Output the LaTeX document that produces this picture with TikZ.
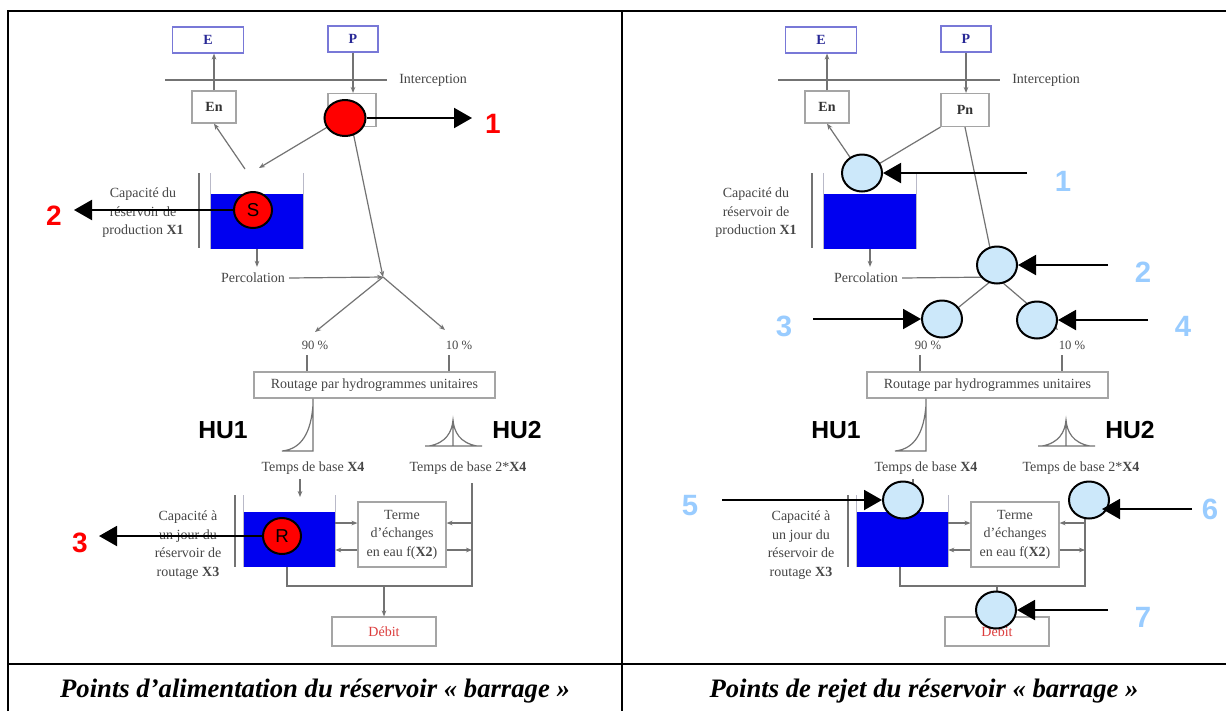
\documentclass[tikz,border=0pt]{standalone}
\usepackage{fontspec}
\setmainfont{Liberation Serif}
\newfontfamily\arialf{Liberation Sans}
\usetikzlibrary{arrows.meta,calc,shapes.geometric}
\definecolor{resblue}{RGB}{0,0,240}
\definecolor{lblue}{RGB}{153,204,255}
\definecolor{cblue}{RGB}{204,232,250}
\definecolor{linegray}{RGB}{115,115,115}
\definecolor{boxgray}{RGB}{165,165,165}
\definecolor{txtgray}{RGB}{70,70,70}
\definecolor{boxblue}{RGB}{120,120,215}
\definecolor{darkblue}{RGB}{40,40,150}
\definecolor{wallgray}{RGB}{185,185,200}
\definecolor{debitred}{RGB}{220,60,60}
\newcommand\gdiagram{%
  % top boxes
  \node[ebox, sz={71}{26}] (E) at (208,40) {E};
  \node[ebox, sz={50}{26}] (P) at (353,39) {P};
  \node[gbox, sz={44}{32}, font=\dfont\bfseries, text=black!80] (En) at (214,107) {En};
  \node[gbox, sz={48}{33}, font=\dfont\bfseries, text=black!80] (Pn) at (352,110) {Pn};
  \coordinate (iL) at (165,80);
  \coordinate (iR) at (387,80);
  \node[dtext, anchor=west] (int) at (399,80) {Interception};
  \draw[dline] (iL) -- (iR);
  \draw[darr] (En.north) -- (En.north |- E.south);
  \draw[darr] (P.south) -- (P.south |- Pn.north);
  \coordinate (sEn) at (245,169);
  \coordinate (sPn) at (259,168);
  \draw[darr] (sEn) -- (En.south);
  \draw[darr] (Pn.south west) -- (sPn);
  % production reservoir
  \node[resv, sz={92}{55}] (Sres) at (257,221.5) {};
  \draw[wall] (Sres.south west) -- ++(0,-76);
  \draw[wall] (Sres.south east) -- ++(0,-76);
  \coordinate (sbar) at (199,173);
  \draw[dline] (sbar) -- ++(0,75);
  \node[dtext] (Scap) at (143,213) {Capacité du\\réservoir de\\production \textbf{X1}};
  \node[dtext] (perc) at (253,278) {Percolation};
  \draw[darr, shorten >=6*0.75pt] (Sres.south) -- (Sres.south |- perc.north);
  \coordinate (J) at (383,277);
  \draw[darr] (perc.east) ++(4*0.75pt,0) -- (J);
  \draw[darr] (Pn.south) -- (J);
  \node[dtext, font=\sfont] (p90) at (315,345) {90 \%};
  \node[dtext, font=\sfont] (p10) at (459,345) {10 \%};
  \coordinate (a90) at (315,332);
  \coordinate (a10) at (445,330);
  \draw[darr] (J) -- (a90);
  \draw[darr] (J) -- (a10);
  % routing
  \node[gbox, sz={241}{26}] (rout) at (374.5,385) {Routage par hydrogrammes unitaires};
  \coordinate (v90) at (307,355);
  \coordinate (v10) at (449,355);
  \draw[dline] (v90) -- (v90 |- rout.north);
  \draw[dline] (v10) -- (v10 |- rout.north);
  \coordinate (h1) at (313,451);
  \draw[dline] (h1 |- rout.south) -- (h1) -- (282,451) .. controls (302,449) and (311,432) .. (313,405);
  \coordinate (h2) at (453,446);
  \draw[dline] (425,446) -- (482,446) (h2) -- (453,420)
    (429,446) .. controls (446,443) and (452,432) .. (453,420) .. controls (454,432) and (460,443) .. (477,446);
  \node[hu] (HU1) at (223,430) {HU1};
  \node[hu] (HU2) at (517,430) {HU2};
  \node[dtext] (tb1) at (313,468) {Temps de base \textbf{X4}};
  \node[dtext] (tb2) at (468,468) {Temps de base 2*\textbf{X4}};
  % routing reservoir
  \node[resv, sz={91}{55}] (Rres) at (289.5,539.5) {};
  \draw[wall] (Rres.south west) -- ++(0,-72);
  \draw[wall] (Rres.south east) -- ++(0,-72);
  \coordinate (rbar) at (235,495);
  \draw[dline] (rbar) -- ++(0,72);
  \coordinate (rin) at (300,479);
  \draw[darr] (rin) -- ++(0,18);
  \node[dtext] (Rcap) at (188,545) {Capacité à\\un jour du\\réservoir de\\routage \textbf{X3}};
  \node[gbox, sz={88}{65}] (T) at (402,534.5) {Terme\\d’échanges\\en eau f(\textbf{X2})};
  \draw[darr] (Rres.east |- 0,523) -- (T.west |- 0,523);
  \draw[darr] (T.west |- 0,550) -- (Rres.east |- 0,550);
  \coordinate (rl) at (472,483);
  \coordinate (br) at (472,586);
  \coordinate (bl) at (287,586);
  \draw[dline] (bl |- Rres.south) -- (bl) -- (br) -- (rl);
  \draw[darr] (rl |- 0,523) -- (T.east |- 0,523);
  \draw[darr] (T.east |- 0,550) -- (rl |- 0,550);
  \node[gbox, sz={104}{29}, text=debitred] (D) at (384,631.5) {Débit};
  \draw[darr] (D.north |- br) -- (D.north);
}
\begin{document}
\begin{tikzpicture}[x=0.75pt,y=-0.75pt,
  sz/.style 2 args={minimum width=#1*0.75pt, minimum height=#2*0.75pt},
  dtext/.style={font=\dfont, text=txtgray, inner sep=0pt, align=center},
  gbox/.style={draw=boxgray, line width=0.9pt, inner sep=0pt, align=center, font=\dfont, text=txtgray},
  ebox/.style={draw=boxblue, line width=0.9pt, inner sep=0pt, font=\dfont\bfseries, text=darkblue},
  resv/.style={fill=resblue, inner sep=0pt},
  wall/.style={draw=wallgray, line width=0.8pt},
  dline/.style={draw=linegray, line width=0.9pt},
  darr/.style={dline, -{Stealth[length=4.5pt,width=3.5pt]}},
  hu/.style={font=\arialf\bfseries\fontsize{18.5}{20}\selectfont, inner sep=0pt},
  circ/.style={ellipse, draw=black, line width=1.5pt, inner sep=0pt, font=\arialf\fontsize{14}{14}\selectfont},
  bigarr/.style={line width=1.5pt, -{Triangle[length=13.5pt,width=15pt]}},
  rnum/.style={font=\arialf\bfseries\fontsize{21}{21}\selectfont, text=red, inner sep=0pt},
  bnum/.style={font=\arialf\bfseries\fontsize{22}{22}\selectfont, text=lblue, inner sep=0pt},
  captxt/.style={font=\bfseries\itshape\fontsize{20}{22}\selectfont, inner sep=0pt},
  tbl/.style={line width=1.6pt, draw=black}]
\def\dfont{\fontsize{10.5}{13.9}\selectfont}
\def\sfont{\fontsize{9.5}{11}\selectfont}
\useasboundingbox (0,0) rectangle (1226,711);
\fill[white] (0,0) rectangle (1226,711);
% table
\draw[tbl] (8,711) -- (8,11) -- (1226,11);
\draw[tbl] (622,11) -- (622,711);
\draw[tbl] (8,664) -- (1226,664);
\node[captxt] (capL) at (315,691) {Points d’alimentation du réservoir « barrage »};
\node[captxt] (capR) at (924,691) {Points de rejet du réservoir « barrage »};
% left panel
\begin{scope}[name prefix=L-]
  \gdiagram
  \node[circ, fill=red, sz={41}{36}] (c1) at (345,118) {};
  \node[circ, fill=red, sz={38}{36}] (cS) at (253,210) {S};
  \node[circ, fill=red, sz={38}{36}] (cR) at (282,536) {R};
  \coordinate (tip1) at (472,118);
  \coordinate (tip2) at (74,210);
  \coordinate (tip3) at (99,536);
  \node[rnum] (n1) at (493,124) {1};
  \node[rnum] (n2) at (54,216) {2};
  \node[rnum] (n3) at (80,543) {3};
  \draw[bigarr] (c1.east) -- (tip1);
  \draw[bigarr] (cS.west) -- (tip2);
  \draw[bigarr] (cR.west) -- (tip3);
\end{scope}
% right panel
\begin{scope}[shift={(613,0)}, name prefix=R-]
  \gdiagram
\end{scope}
\begin{scope}[name prefix=Q-]
  \node[circ, fill=cblue, sz={40}{37}] (c1) at (862,173) {};
  \node[circ, fill=cblue, sz={40}{37}] (c2) at (997,265) {};
  \node[circ, fill=cblue, sz={40}{37}] (c3) at (942,319) {};
  \node[circ, fill=cblue, sz={40}{37}] (c4) at (1037,320) {};
  \node[circ, fill=cblue, sz={40}{37}] (c5) at (903,500) {};
  \node[circ, fill=cblue, sz={40}{37}] (c6) at (1089,500) {};
  \node[circ, fill=cblue, sz={40}{37}] (c7) at (996,610) {};
  \coordinate (t1) at (1027,173);
  \coordinate (t2) at (1108,265);
  \coordinate (t3) at (813,319);
  \coordinate (t4) at (1148,320);
  \coordinate (t5) at (722,500);
  \coordinate (t6) at (1192,509);
  \coordinate (tip6) at (1102,509);
  \coordinate (t7) at (1108,610);
  \node[bnum] (n1) at (1063,181) {1};
  \node[bnum] (n2) at (1143,272) {2};
  \node[bnum] (n3) at (784,326) {3};
  \node[bnum] (n4) at (1183,326) {4};
  \node[bnum] (n5) at (690,506) {5};
  \node[bnum] (n6) at (1210,509) {6};
  \node[bnum] (n7) at (1143,617) {7};
  \draw[bigarr] (t1) -- (c1.east);
  \draw[bigarr] (t2) -- (c2.east);
  \draw[bigarr] (t3) -- (c3.west);
  \draw[bigarr] (t4) -- (c4.east);
  \draw[bigarr] (t5) -- (c5.west);
  \draw[bigarr] (t6) -- (tip6);
  \draw[bigarr] (t7) -- (c7.east);
\end{scope}
\end{tikzpicture}
\end{document}
